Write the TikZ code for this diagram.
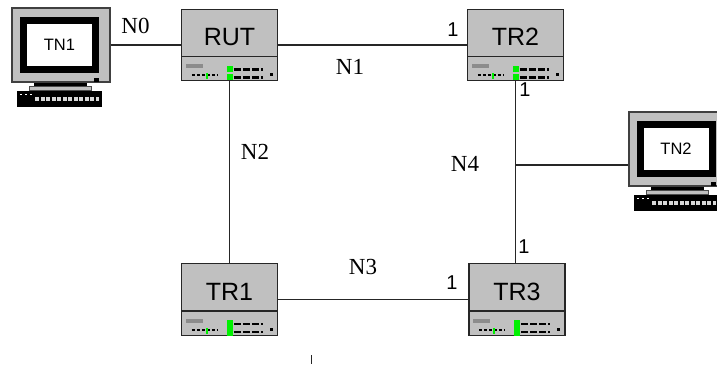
\documentclass[tikz,border=0pt]{standalone}
\usepackage{fontspec}
\setmainfont{Liberation Serif}
\setsansfont{Liberation Sans}
\usetikzlibrary{shapes}
\definecolor{boxgray}{HTML}{C0C0C0}
\definecolor{ledgreen}{HTML}{00F000}
\newcommand{\rutop}{\rule[-10pt]{0pt}{46pt}}
\newcommand{\rubot}{\rule{0pt}{23pt}}

\begin{document}
\begin{tikzpicture}[x=1pt,y=-1pt]
\tikzstyle{router}=[rectangle split, rectangle split parts=2, draw=black!85, line width=1.2pt, fill=boxgray, inner sep=0pt, minimum width=96pt, align=center, font=\sffamily\fontsize{25}{25}\selectfont]
\tikzstyle{monitor}=[rectangle, draw=black!75, line width=1.2pt, fill=boxgray, minimum width=98pt, minimum height=74pt, inner sep=0pt]
\tikzstyle{screen}=[rectangle, draw=black, line width=7pt, fill=white, minimum width=72pt, minimum height=49pt, inner sep=0pt, font=\sffamily\fontsize{16.5}{16.5}\selectfont]
\tikzstyle{netname}=[inner sep=0pt, font=\fontsize{23}{23}\selectfont]
\tikzstyle{port}=[inner sep=0pt, font=\sffamily\fontsize{20}{20}\selectfont]
\tikzstyle{wire}=[draw=black!85, line width=1.6pt]
\tikzset{
  panel/.pic={
    \fill[black!45] (5,-17) rectangle (22,-13);
    \draw[black, line width=2pt, dash pattern=on 3pt off 2pt] (11,-6) -- (37,-6);
    \fill[ledgreen] (25,-8) rectangle (27,-2);
    \fill[ledgreen] (46,-15) rectangle (52,-9);
    \fill[ledgreen] (46,-7) rectangle (52,-1);
    \draw[black, line width=2.5pt, dash pattern=on 7pt off 2pt] (53,-12) -- (82,-12);
    \draw[black, line width=2.5pt, dash pattern=on 7pt off 2pt] (53,-4) -- (82,-4);
    \fill[black] (89,-8) rectangle (92,-5);
  },
  desk/.pic={
    \fill[black] (83,-5) rectangle (88,-1);
    \fill[black] (23,0) rectangle (76,3);
    \filldraw[fill=boxgray, draw=black!70] (18,4) rectangle (80,8);
    \fill[black] (6,8) rectangle (91,24);
    \draw[boxgray!60, line width=4pt, dash pattern=on 4pt off 1.5pt] (24,16) -- (88,16);
    \draw[white, line width=1.5pt, dash pattern=on 2pt off 3pt] (9,12) -- (22,12);
  }
}

\clip (0,0) rectangle (717,364);

\node[router] (rut) at (229.5,45) {\rutop RUT \nodepart{two} \rubot};
\node[router] (tr2) at (515.5,45) {\rutop TR2 \nodepart{two} \rubot};
\node[router] (tr1) at (229.5,299.5) {\rutop TR1 \nodepart{two} \rubot};
\node[router] (tr3) at (517,299.5) {\rutop TR3 \nodepart{two} \rubot};

\node[monitor] (tn1body) at (61,45) {};
\node[screen] (tn1) at (59.5,45) {TN1};
\node[monitor] (tn2body) at (678,149) {};
\node[screen] (tn2) at (676,149) {TN2};

\foreach \n in {rut,tr2,tr1,tr3}
  \pic at (\n.south west) {panel};
\foreach \n in {tr1,tr3} {
  \path (\n.south west) ++(46,-16) coordinate (\n led);
  \fill[ledgreen] (\n led) rectangle ++(6,16);
}
\pic at (tn1body.south west) {desk};
\pic at (tn2body.south west) {desk};

\draw[wire] (tn1body.east) -- (rut.west);
\draw[wire] (rut.east) -- (tr2.west);
\draw[wire] (rut.south) -- (tr1.north);
\draw[wire] (tr1.east) -- (tr3.west);
\draw[wire] (tr2.south) -- (tr2.south |- tr3.north);
\coordinate (tap) at (515.5,165);
\draw[wire] (tap) -- (tap -| tn2body.west);
\coordinate (stubtop) at (311.5,355);
\coordinate (stubend) at (311.5,364);
\draw[wire] (stubtop) -- (stubend);

\node[netname] (n0) at (135.5,26) {N0};
\node[netname] (n1) at (350,67) {N1};
\node[netname] (n2) at (255,152) {N2};
\node[netname] (n3) at (363,267) {N3};
\node[netname] (n4) at (465,164) {N4};

\node[port] (p1) at (453,30) {1};
\node[port] (p2) at (525,90) {1};
\node[port] (p3) at (524,247) {1};
\node[port] (p4) at (452,283) {1};
\end{tikzpicture}
\end{document}
